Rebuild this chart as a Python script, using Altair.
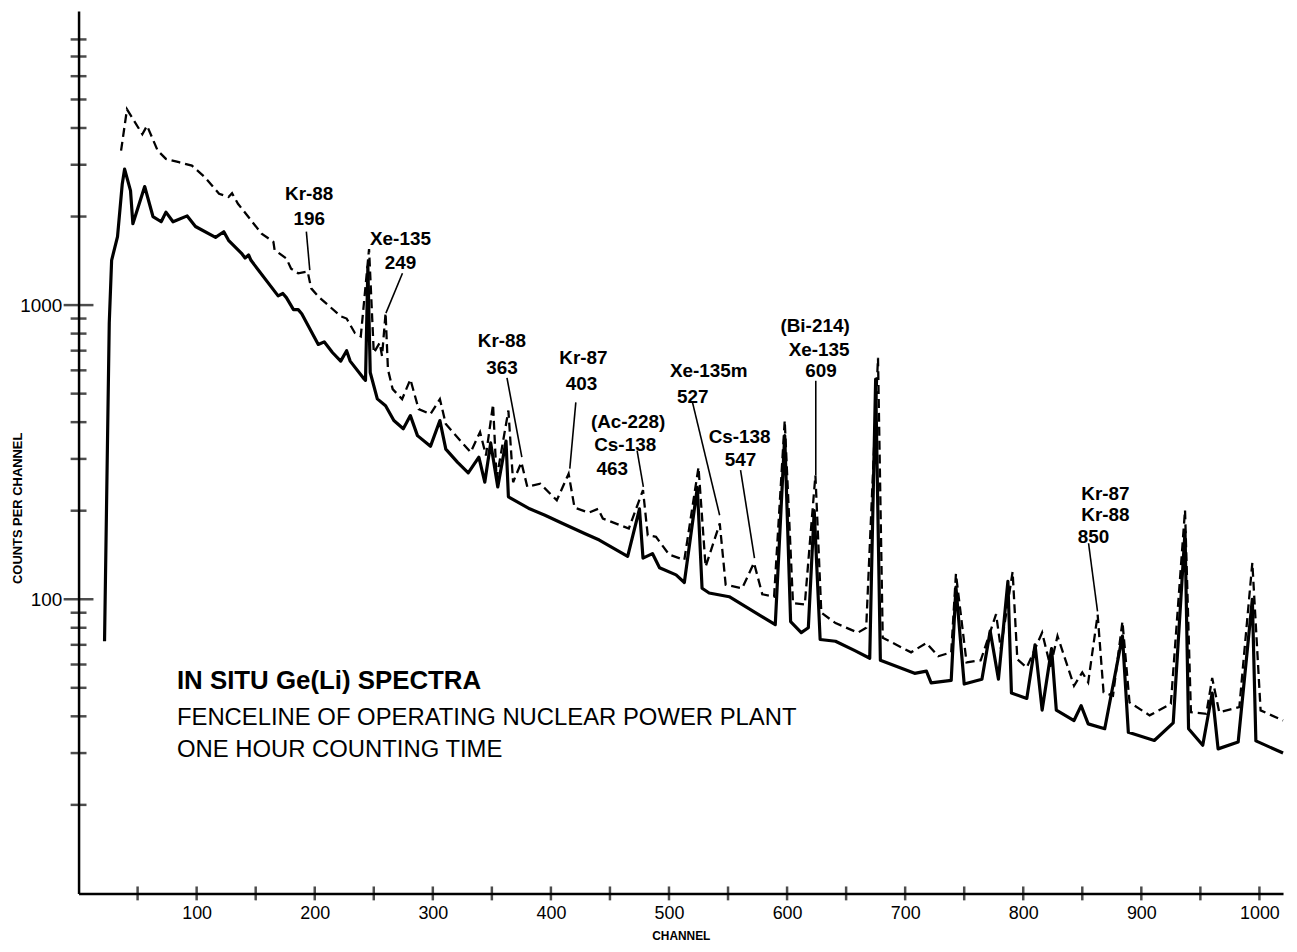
import altair as alt
import pandas as pd

FONT = "Liberation Sans"

# ---- spectrum data (channel, counts per channel) ----
solid_ch = [22, 26, 28, 33, 37, 39, 44, 46, 56, 63, 70, 74, 80, 92, 99, 116, 123, 127,
            138, 141, 144, 146, 169, 173, 176, 182, 186, 189, 203, 208, 215, 222, 227, 230,
            241, 243, 245, 247, 253, 260, 267, 275, 281, 287, 298, 306, 311, 321, 330, 339,
            344, 349, 355, 362, 364, 382, 395, 410, 429, 441, 465, 475, 478, 486, 492, 506,
            513, 524, 528, 534, 551, 590, 598, 603, 612, 618, 623, 628, 641, 657, 670, 675,
            679, 708, 718, 722, 739, 743, 750, 765, 772, 779, 787, 790, 803, 810, 816, 824,
            828, 843, 849, 855, 869, 884, 889, 911, 927, 937, 940, 952, 960, 965, 982, 994,
            997, 1020]
solid_ct = [72, 870, 1420, 1710, 2580, 2900, 2450, 1890, 2530, 2000, 1920, 2070, 1920, 2010, 1850, 1700, 1775, 1660,
            1500, 1445, 1480, 1420, 1075, 1095, 1060, 965, 965, 935, 735, 750, 690, 645, 700, 645,
            566, 555, 1350, 590, 480, 455, 405, 380, 421, 360, 331, 405, 324, 292, 269, 304,
            250, 340, 241, 345, 223, 203, 193, 181, 167, 159, 140, 203, 138, 143, 128, 121,
            114, 240, 109, 105, 102, 82, 360, 84, 77, 80, 200, 73, 72, 67, 63, 560,
            62, 56, 57, 52, 53, 110, 51.5, 53.5, 78, 53.5, 115, 48, 46, 70, 42, 68,
            42, 38.7, 43.5, 37.7, 36.3, 75, 35.3, 33.1, 38, 170, 36.3, 31.9, 48, 31, 32.7, 100,
            33, 30]

dash_ch = [36, 41, 54, 58, 67, 74, 85, 96, 107, 119, 127, 130, 135, 155, 165, 166, 176, 180,
           186, 194, 197, 203, 222, 227, 234, 239, 246, 250, 255, 257, 260, 262, 266, 274,
           281, 288, 298, 306, 311, 332, 340, 345, 351, 354, 364, 368, 375, 380, 391, 405,
           415, 420, 432, 440, 444, 466, 478, 482, 489, 500, 513, 525, 531, 543, 548, 562,
           572, 579, 589, 598, 605, 615, 624, 629, 641, 660, 667, 677, 681, 705, 718, 728,
           739, 743, 752, 764, 777, 781, 791, 795, 803, 816, 823, 829, 843, 850, 855, 863,
           868, 876, 884, 890, 907, 925, 937, 942, 955, 960, 966, 983, 994, 1001, 1020]
dash_ct = [3350, 4630, 3810, 4070, 3350, 3140, 3060, 2980, 2720, 2390, 2330, 2400, 2210, 1750, 1640, 1540, 1440, 1330,
           1283, 1300, 1140, 1070, 916, 900, 804, 783, 1550, 688, 744, 671, 940, 604, 518, 479,
           559, 443, 426, 479, 394, 316, 370, 308, 460, 257, 438, 250, 292, 241, 247, 217,
           267, 205, 197, 203, 188, 174, 235, 165, 163, 142, 136, 281, 129, 181, 112, 109,
           133, 104, 102, 405, 97, 96, 264, 90, 83, 77, 80, 662, 74, 66, 71, 64,
           66, 122, 61, 62, 89, 68, 124, 62.5, 58.6, 77, 59, 75, 50.8, 56.4, 52.2, 88.7,
           48.3, 47, 84, 44.6, 40.3, 44.1, 201, 41.3, 40.8, 54, 41.3, 43, 133, 41.9, 38.7]

assert len(solid_ch) == len(solid_ct)
assert len(dash_ch) == len(dash_ct)

# ---- axis ticks / labels ----
x_label_values = [100, 200, 300, 400, 500, 600, 700, 800, 900, 1000]
x_tick_values = [50, 100, 150, 200, 250, 300, 350, 400, 450, 500, 550, 600, 650, 700,
                 750, 800, 850, 900, 950, 1000]
y_label_values = [100, 1000]
y_major_ticks = [100, 1000]
y_minor_ticks = [20, 30, 40, 50, 60, 70, 80, 90, 200, 300, 400, 500, 600, 700, 800, 900,
                 2000, 3000, 4000, 5000, 6000, 7000, 8000]

# ---- peak annotations ----
label_text = ["Kr-88", "196", "Xe-135", "249", "Kr-88", "363", "Kr-87", "403",
              "(Ac-228)", "Cs-138", "463", "Xe-135m", "527", "Cs-138", "547",
              "(Bi-214)", "Xe-135", "609", "Kr-87", "Kr-88", "850"]
label_ch = [195.3, 195.3, 272.6, 272.6, 358.5, 358.5, 427.5, 425.9,
            465.4, 462.9, 452.0, 533.7, 520.2, 559.8, 560.6,
            623.7, 627.1, 628.8, 869.6, 869.6, 859.4]
label_ct = [2388, 1968, 1671, 1387, 755, 612, 662, 537,
            399, 334, 277, 598, 485, 356, 297,
            849, 705, 598, 228, 194, 163]

ptr_ch = [192.9, 274.3, 362.8, 421.1, 473.0, 519.9, 560.6, 624.3, 855.3]
ptr_ct = [1778, 1283, 566, 467, 320, 467, 275, 553, 155]
ptr_ch2 = [195.8, 260.3, 375.4, 416.0, 478.3, 542.9, 572.4, 624.3, 862.9]
ptr_ct2 = [1315, 939, 304, 278, 241, 193, 138, 264, 91]

title_lines = ["IN SITU Ge(Li) SPECTRA"]
sub_lines = ["FENCELINE OF OPERATING NUCLEAR POWER PLANT", "ONE HOUR COUNTING TIME"]
title_ch = [83.3]
title_ct = [52.8]
sub_ch = [83.3, 83.3]
sub_ct = [39.4, 30.6]

# ---- scales / axes ----
x_scale = alt.Scale(domain=[0, 1020], nice=False, zero=False)
y_scale = alt.Scale(type="log", domain=[10, 10000], nice=False)

x_axis = alt.Axis(values=x_label_values, format="d", ticks=False, tickSize=0, grid=False,
                  domainColor="black", domainWidth=2.5, labelFont=FONT, labelFontSize=18,
                  labelColor="black", labelPadding=11, title="CHANNEL", titleFont=FONT,
                  titleFontSize=12, titleFontWeight="bold", titleColor="black", titlePadding=8)
y_axis = alt.Axis(values=y_label_values, format="d", ticks=False, tickSize=0, grid=False,
                  domainColor="black", domainWidth=2.5, labelFont=FONT, labelFontSize=19,
                  labelColor="black", labelPadding=17, title="COUNTS PER CHANNEL",
                  titleFont=FONT, titleFontSize=13, titleFontWeight="bold", titleColor="black",
                  titleX=-61, titleY=500, titleAngle=270, titleAlign="center",
                  titleBaseline="middle")

X = alt.X("channel:Q", scale=x_scale, axis=x_axis)
Y = alt.Y("counts:Q", scale=y_scale, axis=y_axis)

solid_df = pd.DataFrame({"channel": solid_ch, "counts": solid_ct})
dash_df = pd.DataFrame({"channel": dash_ch, "counts": dash_ct})

solid = alt.Chart(solid_df).mark_line(color="black", strokeWidth=3.2, strokeJoin="round").encode(x=X, y=Y)
dashed = alt.Chart(dash_df).mark_line(color="black", strokeWidth=2.3, strokeDash=[9, 5]).encode(x=X, y=Y)

ytick_major = alt.Chart(pd.DataFrame({"counts": y_major_ticks})).transform_calculate(
    channel="0").mark_tick(orient="horizontal", size=30, thickness=2.5, color="black").encode(x=X, y=Y)
ytick_minor = alt.Chart(pd.DataFrame({"counts": y_minor_ticks})).transform_calculate(
    channel="0").mark_tick(orient="horizontal", size=16, thickness=2.5, color="black").encode(x=X, y=Y)
xtick = alt.Chart(pd.DataFrame({"channel": x_tick_values})).transform_calculate(
    counts="10").mark_tick(orient="vertical", size=14, thickness=2.5, color="black").encode(x=X, y=Y)

labels = alt.Chart(pd.DataFrame({"channel": label_ch, "counts": label_ct, "text": label_text})).mark_text(
    font=FONT, fontSize=19, fontWeight="bold", color="black", align="center", baseline="middle"
).encode(x=X, y=Y, text="text:N")

pointers = alt.Chart(pd.DataFrame({"channel": ptr_ch, "counts": ptr_ct,
                                   "channel2": ptr_ch2, "counts2": ptr_ct2})).mark_rule(
    color="black", strokeWidth=1.6).encode(x=X, y=Y, x2="channel2:Q", y2="counts2:Q")

title = alt.Chart(pd.DataFrame({"channel": title_ch, "counts": title_ct, "text": title_lines})).mark_text(
    font=FONT, fontSize=26, fontWeight="bold", color="black", align="left", baseline="middle"
).encode(x=X, y=Y, text="text:N")

subtitle = alt.Chart(pd.DataFrame({"channel": sub_ch, "counts": sub_ct, "text": sub_lines})).mark_text(
    font=FONT, fontSize=24, color="black", align="left", baseline="middle"
).encode(x=X, y=Y, text="text:N")

chart = alt.layer(solid, dashed, ytick_major, ytick_minor, xtick, pointers, labels, title, subtitle).properties(
    width=1212, height=888,
    autosize=alt.AutoSizeParams(type="none"),
    padding={"left": 71, "top": 0, "right": 6, "bottom": 56},
    background="white",
).configure_view(stroke=None)

chart.save("out.html", embed_options={"renderer": "svg", "actions": False})
